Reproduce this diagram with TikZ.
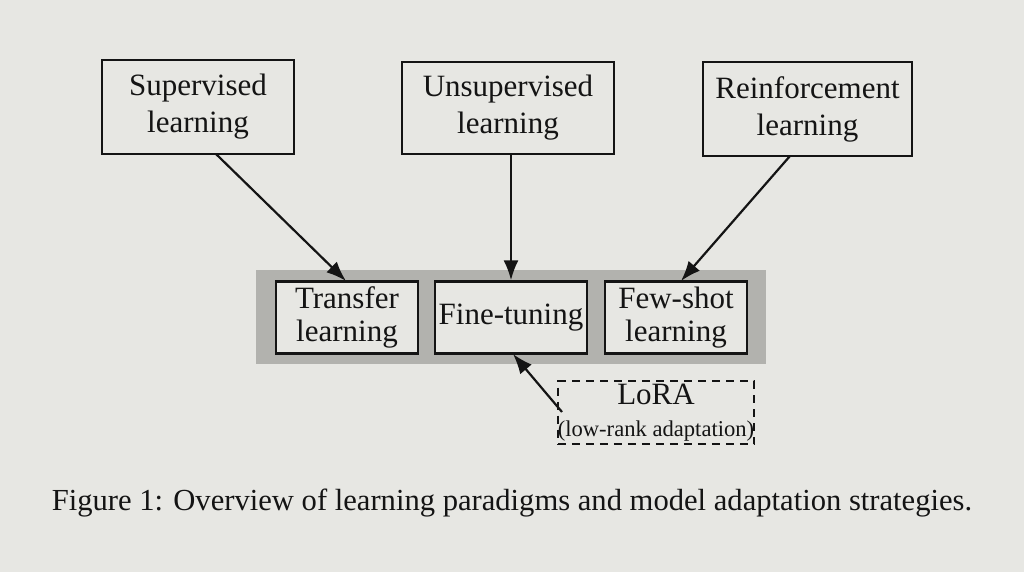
\documentclass[tikz,border=0pt]{standalone}
\usepackage{fontspec}
\setmainfont{Liberation Serif}
\usetikzlibrary{arrows.meta}
\definecolor{paper}{RGB}{231,231,227}
\definecolor{band}{RGB}{178,178,174}
\definecolor{ink}{RGB}{20,20,20}
\begin{document}
\begin{tikzpicture}[x=0.5pt,y=-0.5pt,
  box/.style={draw=ink,line width=1.2pt,fill=paper,align=center,text=ink,font=\fontsize{15.5}{18.5}\selectfont,inner sep=0pt},
  small/.style={font=\fontsize{15.5}{16.5}\selectfont},
  arr/.style={draw=ink,line width=1.1pt,-{Latex[length=10pt,width=7.5pt]}}]
\fill[paper] (0,0) rectangle (1024,572);
\useasboundingbox (0,0) rectangle (1024,572);
\node[fill=band,minimum width=255pt,minimum height=47pt,inner sep=0pt] (band) at (511,317.5) {};
\node[box,minimum width=96pt,minimum height=47pt] (sup) at (198,107) {Supervised\\learning};
\node[box,minimum width=106pt,minimum height=46pt] (uns) at (508,108) {Unsupervised\\learning};
\node[box,minimum width=104.5pt,minimum height=47pt] (rei) at (807.5,109) {Reinforcement\\learning};
\node[box,small,minimum width=71pt,minimum height=36pt] (tra) at (347,317.5) {Transfer\\learning};
\node[box,small,minimum width=76pt,minimum height=36pt] (fin) at (511,317.5) {Fine-tuning};
\node[box,small,minimum width=71pt,minimum height=36pt] (few) at (676,317.5) {Few-shot\\learning};
\node[box,line width=1pt,dash pattern=on 4pt off 3pt,minimum width=94pt,minimum height=31.5pt,font=\fontsize{15.5}{16}\selectfont] (lora) at (656,413) {LoRA\\{\fontsize{11.3}{12}\selectfont (low-rank adaptation)}};
\coordinate (s1) at (216,154);
\coordinate (r1) at (790,156);
\coordinate (l1) at (562,412);
\draw[arr] (s1) -- (346,281);
\draw[arr] (uns.south -| fin.north) -- (fin.north);
\draw[arr] (r1) -- (681,281);
\draw[arr] (l1) -- (513,354);
\node[font=\fontsize{15.3}{17}\selectfont,text=ink] (cap) at (512,503) {Figure 1: Overview of learning paradigms and model adaptation strategies.};
\end{tikzpicture}
\end{document}
